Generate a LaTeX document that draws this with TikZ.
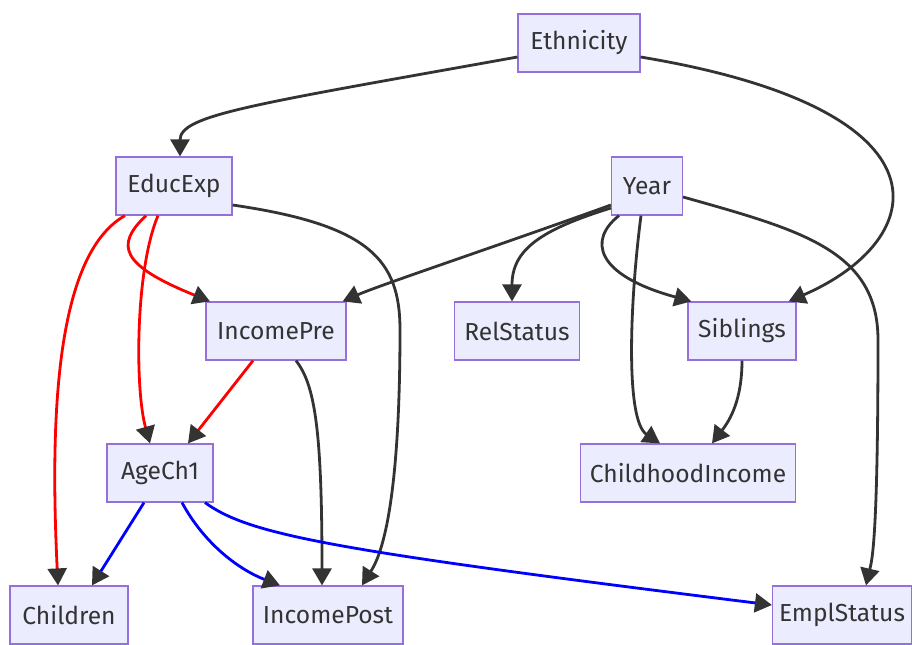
\documentclass[tikz,border=0pt]{standalone}
\usepackage{fontspec}
\setmainfont{Fira Sans}
\usetikzlibrary{arrows.meta}
\definecolor{nodefill}{HTML}{ECECFF}
\definecolor{nodeborder}{HTML}{9370DB}
\definecolor{edgegray}{HTML}{333333}
\tikzset{%
  v/.style = {rectangle,draw=nodeborder,fill=nodefill,line width=0.6pt,
        text=edgegray,minimum height=29pt,inner xsep=2pt,
        font=\fontsize{12.3}{15}\selectfont},
  tip/.style = {-{Triangle[length=8.5pt,width=9.5pt,color=edgegray]}},
  blackarrow/.style = {tip,draw=edgegray,line width=1.4pt},
  redarrow/.style = {tip,draw=red,line width=1.4pt},
  bluearrow/.style = {tip,draw=blue,line width=1.4pt}
}
\begin{document}
\begin{tikzpicture}[x=0.5pt,y=-0.5pt]
\useasboundingbox (0,0) rectangle (912,644);
% nodes
\node[v,minimum width=61pt] (eth) at (579,43) {Ethnicity};
\node[v,minimum width=58pt] (edu) at (174,186) {EducExp};
\node[v,minimum width=35.5pt] (year) at (647,186) {Year};
\node[v,minimum width=70pt] (incpre) at (276,331) {IncomePre};
\node[v,minimum width=62.5pt] (rel) at (517,331) {RelStatus};
\node[v,minimum width=54pt] (sib) at (742,331) {Siblings};
\node[v,minimum width=53pt] (age) at (160,473) {AgeCh1};
\node[v,minimum width=107.5pt] (childinc) at (688,473) {ChildhoodIncome};
\node[v,minimum width=59pt] (children) at (69,615) {Children};
\node[v,minimum width=75pt] (incpost) at (328,615) {IncomePost};
\node[v,minimum width=69.5pt] (empl) at (842,615) {EmplStatus};
% black edges
\draw[blackarrow] ([yshift=-7pt]eth.west) .. controls (250,105) and (180,115) .. ([xshift=3pt]edu.north);
\draw[blackarrow] ([yshift=-7pt]eth.east) .. controls (960,110) and (930,240) .. ([xshift=-4pt]sib.north east);
\draw[blackarrow] ([yshift=-9.5pt]edu.east) .. controls (370,225) and (400,260) .. (400,330)
      .. controls (400,520) and (378,560) .. ([xshift=17pt]incpost.north);
\draw[blackarrow] ([yshift=-9.5pt]year.west) .. controls (500,245) and (380,285) .. ([xshift=-2pt]incpre.north east);
\draw[blackarrow] ([yshift=-11pt]year.west) .. controls (540,230) and (512,250) .. ([xshift=-2.5pt]rel.north);
\draw[blackarrow] ([xshift=-14pt]year.south) .. controls (588,240) and (595,275) .. ([xshift=2pt]sib.north west);
\draw[blackarrow] ([xshift=-3pt]year.south) .. controls (630,300) and (625,420) .. ([xshift=-14pt]childinc.north);
\draw[blackarrow] ([yshift=-5.5pt]year.east) .. controls (800,230) and (878,250) .. (878,340)
      .. controls (878,540) and (872,560) .. ([xshift=12pt]empl.north);
\draw[blackarrow] (sib.south) .. controls (742,400) and (730,420) .. ([xshift=12pt]childinc.north);
\draw[blackarrow] ([xshift=10pt]incpre.south) .. controls (315,385) and (322,430) .. ([xshift=-3pt]incpost.north);
% red edges
\draw[redarrow] ([xshift=-14pt]edu.south) .. controls (115,245) and (120,265) .. ([xshift=-33pt]incpre.north);
\draw[redarrow] ([xshift=-8pt]edu.south) .. controls (135,270) and (135,390) .. ([xshift=-5pt]age.north);
\draw[redarrow] ([xshift=-24.5pt]edu.south) .. controls (55,255) and (50,420) .. ([xshift=-5.5pt]children.north);
\draw[redarrow] ([xshift=-11.5pt]incpre.south) -- ([xshift=14pt]age.north);
% blue edges
\draw[bluearrow] ([xshift=-8pt]age.south) -- ([xshift=11.5pt]children.north);
\draw[bluearrow] ([xshift=11pt]age.south) .. controls (205,545) and (240,570) .. ([xshift=-24pt]incpost.north);
\draw[bluearrow] ([xshift=22.5pt]age.south) .. controls (250,535) and (330,550) .. ([yshift=5pt]empl.west);
\end{tikzpicture}
\end{document}
